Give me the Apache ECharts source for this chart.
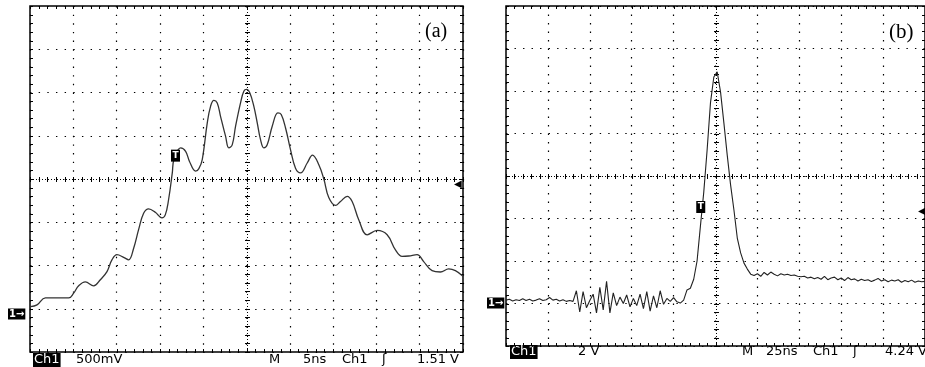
<!DOCTYPE html>
<html>
<head>
<meta charset="utf-8">
<script src="https://cdn.jsdelivr.net/npm/echarts@6/dist/echarts.min.js"></script>
<style>
  html, body { margin: 0; padding: 0; background: #fff; }
  #chart { width: 925px; height: 367px; }
</style>
</head>
<body>
<div id="chart"></div>
<script>
// panel (a): time in ns, amplitude in screen divisions (500 mV/div, 5 ns/div)
const traceA = [
  [-24.95, -2.95], [-24.19, -2.91], [-23.22, -2.75], [-20.53, -2.75], [-19.96, -2.64],
  [-19.38, -2.47], [-18.61, -2.38], [-17.65, -2.47], [-16.88, -2.33], [-16.11, -2.14],
  [-15.54, -1.87], [-14.96, -1.75], [-14.19, -1.81], [-13.61, -1.87], [-13.03, -1.60],
  [-12.46, -1.17], [-11.88, -0.79], [-11.30, -0.69], [-10.53, -0.77], [-9.77, -0.90],
  [-9.38, -0.83], [-9.00, -0.48], [-8.57, 0.14], [-8.38, 0.45], [-7.61, 0.72],
  [-7.03, 0.64], [-6.57, 0.40], [-5.88, 0.18], [-5.50, 0.24], [-5.11, 0.45],
  [-4.53, 1.30], [-4.15, 1.68], [-3.77, 1.82], [-3.38, 1.76], [-3.00, 1.45],
  [-2.42, 0.99], [-2.04, 0.72], [-1.65, 0.79], [-1.26, 1.22], [-0.69, 1.76],
  [-0.31, 2.03], [0.01, 2.07], [0.39, 1.99], [0.85, 1.68], [1.24, 1.30],
  [1.62, 0.91], [2.00, 0.72], [2.39, 0.79], [2.97, 1.22], [3.62, 1.53],
  [4.01, 1.49], [4.51, 1.18], [5.08, 0.68], [5.66, 0.25], [6.24, 0.14],
  [7.01, 0.37], [7.62, 0.55], [8.35, 0.33], [8.93, 0.00], [9.50, -0.43],
  [10.28, -0.61], [10.85, -0.52], [11.63, -0.40], [12.20, -0.52], [12.96, -0.94],
  [13.93, -1.29], [15.09, -1.19], [16.24, -1.29], [17.20, -1.64], [17.97, -1.79],
  [18.73, -1.78], [19.70, -1.75], [20.46, -1.91], [21.43, -2.12], [22.39, -2.15],
  [23.35, -2.08], [24.12, -2.12], [25.00, -2.25]
];

// panel (b): one sample every 2 ns starting at -125 ns, amplitude in divisions (2 V/div, 25 ns/div)
const startB = -125;
const stepB = 2;
const samplesB = [
  -2.92, -2.90, -2.94, -2.91, -2.93, -2.89, -2.93, -2.90, -2.94, -2.92,
  -2.89, -2.93, -2.91, -2.86, -2.92, -2.90, -2.94, -2.91, -2.95, -2.93,
  -2.95, -2.70, -3.20, -2.72, -3.10, -2.93, -2.78, -3.22, -2.62, -3.15,
  -2.48, -3.22, -2.75, -3.05, -2.85, -3.00, -2.80, -3.08, -2.88, -3.05,
  -2.78, -3.12, -2.72, -3.18, -2.82, -3.10, -2.70, -3.02, -2.88, -2.95,
  -2.86, -2.96, -2.99, -2.92,
  -2.68, -2.64, -2.43, -2.00, -1.18, -0.38, 0.61, 1.72, 2.33, 2.45,
  1.98, 1.25, 0.49, -0.21, -0.80, -1.46, -1.81, -2.05, -2.19, -2.31, -2.34,
  -2.30, -2.36, -2.27, -2.33, -2.26, -2.31, -2.35, -2.30, -2.33, -2.31,
  -2.34, -2.33, -2.36, -2.37, -2.36, -2.40, -2.38, -2.42, -2.39, -2.43,
  -2.36, -2.44, -2.40, -2.38, -2.44, -2.40, -2.46, -2.39, -2.44, -2.42,
  -2.47, -2.43, -2.46, -2.44, -2.48, -2.45, -2.41, -2.47, -2.44, -2.49,
  -2.45, -2.47, -2.44, -2.50, -2.46, -2.49, -2.45, -2.50, -2.47, -2.49, -2.48
];

const triggerA = [-8.2, 0.54];
const triggerB = [-8.8, -0.73];

const readoutA = ['Ch1', '500mV', 'M', '5ns', 'Ch1', 'ʃ', '1.51 V'];
const readoutB = ['Ch1', '2 V', 'M', '25ns', 'Ch1', 'ʃ', '4.24 V'];

const traceB = samplesB.map((v, i) => [startB + i * stepB, v]);

const chart = echarts.init(document.getElementById('chart'));

// centre cross-hair with minor ticks, plus small ticks on the frame
function graticule(xMin, xMax, xStep, yMin, yMax, yStep) {
  return function (params, api) {
    const children = [];
    const px = (v) => Math.round(v) + 0.5;
    const add = (x1, y1, x2, y2, dash) => children.push({
      type: 'line',
      shape: { x1, y1, x2, y2 },
      style: { stroke: '#000', lineWidth: 1, lineDash: dash || null }
    });
    const c = api.coord([0, 0]).map(px);
    const top = api.coord([0, yMax])[1];
    const bottom = api.coord([0, yMin])[1];
    const left = api.coord([xMin, 0])[0];
    const right = api.coord([xMax, 0])[0];
    add(left, c[1], right, c[1], [1, 2]);
    add(c[0], top, c[0], bottom, [1, 2]);
    const nx = Math.round((xMax - xMin) / xStep) * 5;
    for (let k = 0; k <= nx; k++) {
      const x = px(api.coord([xMin + (k * xStep) / 5, 0])[0]);
      add(x, c[1] - 2.5, x, c[1] + 2.5);
      add(x, top, x, top + 3);
      add(x, bottom - 3, x, bottom);
    }
    const ny = Math.round((yMax - yMin) / yStep) * 5;
    for (let k = 0; k <= ny; k++) {
      const y = px(api.coord([0, yMin + (k * yStep) / 5])[1]);
      add(c[0] - 2.5, y, c[0] + 2.5, y);
      add(left, y, left + 3, y);
      add(right - 3, y, right, y);
    }
    return { type: 'group', children };
  };
}

function xAxisFor(gridIndex, min, max, interval, dotGap) {
  return {
    gridIndex, type: 'value', min, max, interval,
    axisLine: { show: false }, axisTick: { show: false }, axisLabel: { show: false },
    splitLine: { show: true, lineStyle: { color: '#000', width: 1.2, type: [1.4, dotGap] } }
  };
}

function yAxisFor(gridIndex, dotGap) {
  return {
    gridIndex, type: 'value', min: -4, max: 4, interval: 1,
    axisLine: { show: false }, axisTick: { show: false }, axisLabel: { show: false },
    splitLine: { show: true, lineStyle: { color: '#000', width: 1.2, type: [1.4, dotGap] } }
  };
}

function triggerMark(coord) {
  return {
    symbol: 'rect',
    symbolSize: [9, 12],
    itemStyle: { color: '#000' },
    label: { show: true, formatter: 'T', color: '#fff', fontSize: 9, fontWeight: 'bold', fontFamily: 'DejaVu Sans' },
    data: [{ coord }]
  };
}

const font = '13px "DejaVu Sans"';
function readoutText(texts, xs, y) {
  return texts.map((t, i) => ({
    type: 'text',
    x: xs[i],
    y,
    style: i === 0
      ? { text: t, font, fill: '#fff', backgroundColor: '#000', padding: [1, 1, 0, 1], verticalAlign: 'middle' }
      : { text: t, font, fill: '#000', verticalAlign: 'middle' }
  }));
}

const option = {
  animation: false,
  backgroundColor: '#fff',
  grid: [
    { left: 30, top: 6, width: 433, height: 346, show: true, borderColor: '#000', borderWidth: 1.5, backgroundColor: 'transparent' },
    { left: 506, top: 6, width: 426, height: 340, show: true, borderColor: '#000', borderWidth: 1.5, backgroundColor: 'transparent' }
  ],
  xAxis: [
    xAxisFor(0, -25, 25, 5, 7.25),
    xAxisFor(1, -125, 125, 25, 7.1)
  ],
  yAxis: [
    yAxisFor(0, 7.26),
    yAxisFor(1, 7.12)
  ],
  series: [
    {
      type: 'custom', xAxisIndex: 0, yAxisIndex: 0, silent: true, z: 1,
      data: [[0, 0]], renderItem: graticule(-25, 25, 5, -4, 4, 1)
    },
    {
      type: 'custom', xAxisIndex: 1, yAxisIndex: 1, silent: true, z: 1,
      data: [[0, 0]], renderItem: graticule(-125, 125, 25, -4, 4, 1)
    },
    {
      name: '(a)', type: 'line', xAxisIndex: 0, yAxisIndex: 0, z: 3,
      data: traceA, smooth: 0.4, symbol: 'none',
      lineStyle: { color: '#333', width: 1.3 },
      markPoint: triggerMark(triggerA)
    },
    {
      name: '(b)', type: 'line', xAxisIndex: 1, yAxisIndex: 1, z: 3,
      data: traceB, symbol: 'none',
      lineStyle: { color: '#222', width: 1.1 },
      markPoint: triggerMark(triggerB)
    }
  ],
  graphic: [
    ...readoutText(readoutA, [33, 76, 269, 303, 342, 382, 417], 360),
    ...readoutText(readoutB, [510, 578, 742, 766, 813, 853, 885], 352),
    { type: 'text', x: 425, y: 32, style: { text: '(a)', font: '20px "Liberation Serif"', fill: '#000', verticalAlign: 'middle' } },
    { type: 'text', x: 889, y: 32, style: { text: '(b)', font: '21px "Liberation Serif"', fill: '#000', verticalAlign: 'middle' } },
    { type: 'text', x: 8, y: 314, style: { text: '1→', font: 'bold 10px "DejaVu Sans"', fill: '#fff', backgroundColor: '#000', padding: [1, 1, 0, 1], verticalAlign: 'middle' } },
    { type: 'text', x: 487, y: 303, style: { text: '1→', font: 'bold 10px "DejaVu Sans"', fill: '#fff', backgroundColor: '#000', padding: [1, 1, 0, 1], verticalAlign: 'middle' } },
    { type: 'text', x: 454, y: 184, style: { text: '◀', font: '10px "DejaVu Sans"', fill: '#000', verticalAlign: 'middle' } },
    { type: 'text', x: 918, y: 211, style: { text: '◀', font: '10px "DejaVu Sans"', fill: '#000', verticalAlign: 'middle' } }
  ]
};

chart.setOption(option);
</script>
</body>
</html>
